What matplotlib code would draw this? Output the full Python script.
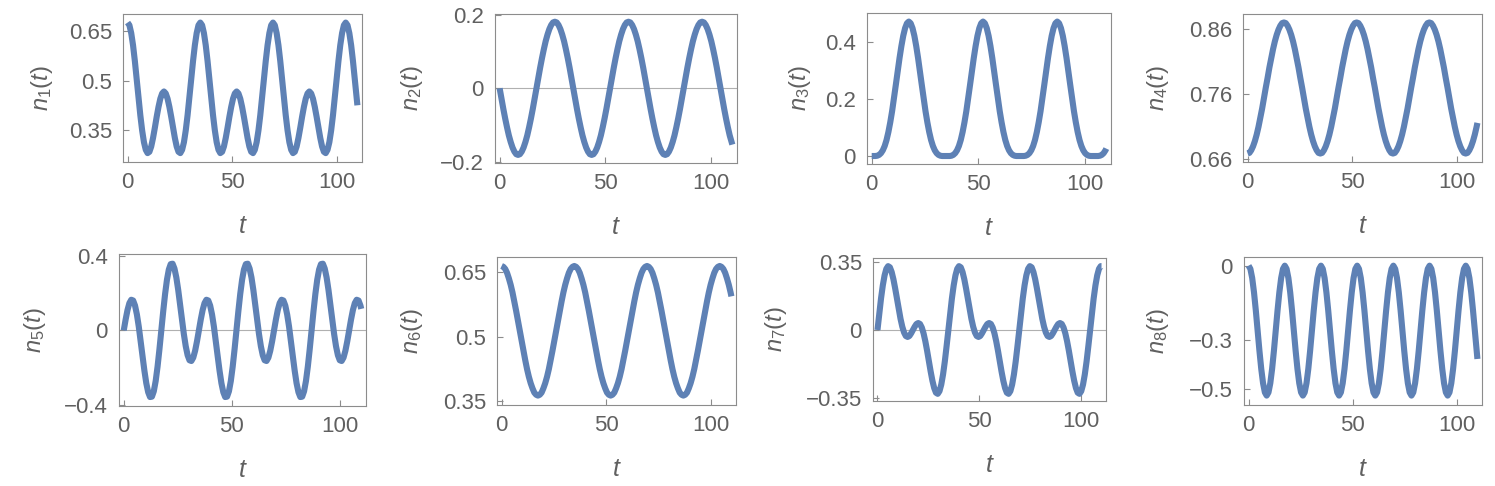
import numpy as np
import matplotlib
matplotlib.use("Agg")
import matplotlib.pyplot as plt

plt.rcParams['font.family'] = ['Liberation Sans', 'DejaVu Sans']
plt.rcParams['mathtext.fontset'] = 'custom'
plt.rcParams['mathtext.it'] = 'Liberation Sans:italic'
plt.rcParams['mathtext.rm'] = 'Liberation Sans'

# sample times: 40 samples per ~34.8 period, last point at t = 110
t = np.append(np.arange(127) * 0.87, 110.0)

n1 = [0.676, 0.668, 0.644, 0.607, 0.559, 0.504, 0.448, 0.395, 0.349, 0.313,
      0.290, 0.280, 0.284, 0.300, 0.326, 0.357, 0.390, 0.420, 0.445, 0.461,
      0.467, 0.461, 0.445, 0.420, 0.390, 0.357, 0.326, 0.300, 0.284, 0.280,
      0.290, 0.313, 0.349, 0.395, 0.448, 0.504, 0.559, 0.607, 0.644, 0.668,
      0.676, 0.668, 0.644, 0.607, 0.559, 0.504, 0.448, 0.395, 0.349, 0.313,
      0.290, 0.280, 0.284, 0.300, 0.326, 0.357, 0.390, 0.420, 0.445, 0.461,
      0.467, 0.461, 0.445, 0.420, 0.390, 0.357, 0.326, 0.300, 0.284, 0.280,
      0.290, 0.313, 0.349, 0.395, 0.448, 0.504, 0.559, 0.607, 0.644, 0.668,
      0.676, 0.668, 0.644, 0.607, 0.559, 0.504, 0.448, 0.395, 0.349, 0.313,
      0.290, 0.280, 0.284, 0.300, 0.326, 0.357, 0.390, 0.420, 0.445, 0.461,
      0.467, 0.461, 0.445, 0.420, 0.390, 0.357, 0.326, 0.300, 0.284, 0.280,
      0.290, 0.313, 0.349, 0.395, 0.448, 0.504, 0.559, 0.607, 0.644, 0.668,
      0.676, 0.668, 0.644, 0.607, 0.559, 0.504, 0.448, 0.425]
n2 = [0.000, -0.028, -0.056, -0.082, -0.106, -0.128, -0.146, -0.161, -0.172, -0.179,
      -0.181, -0.179, -0.172, -0.161, -0.146, -0.128, -0.106, -0.082, -0.056, -0.028,
      0.000, 0.028, 0.056, 0.082, 0.106, 0.128, 0.146, 0.161, 0.172, 0.179,
      0.181, 0.179, 0.172, 0.161, 0.146, 0.128, 0.106, 0.082, 0.056, 0.028,
      0.000, -0.028, -0.056, -0.082, -0.106, -0.128, -0.146, -0.161, -0.172, -0.179,
      -0.181, -0.179, -0.172, -0.161, -0.146, -0.128, -0.106, -0.082, -0.056, -0.028,
      0.000, 0.028, 0.056, 0.082, 0.106, 0.128, 0.146, 0.161, 0.172, 0.179,
      0.181, 0.179, 0.172, 0.161, 0.146, 0.128, 0.106, 0.082, 0.056, 0.028,
      0.000, -0.028, -0.056, -0.082, -0.106, -0.128, -0.146, -0.161, -0.172, -0.179,
      -0.181, -0.179, -0.172, -0.161, -0.146, -0.128, -0.106, -0.082, -0.056, -0.028,
      0.000, 0.028, 0.056, 0.082, 0.106, 0.128, 0.146, 0.161, 0.172, 0.179,
      0.181, 0.179, 0.172, 0.161, 0.146, 0.128, 0.106, 0.082, 0.056, 0.028,
      0.000, -0.028, -0.056, -0.082, -0.106, -0.128, -0.146, -0.153]
n3 = [0.000, 0.000, 0.000, 0.001, 0.004, 0.010, 0.020, 0.035, 0.056, 0.084,
      0.118, 0.157, 0.202, 0.249, 0.297, 0.343, 0.385, 0.421, 0.448, 0.465,
      0.471, 0.465, 0.448, 0.421, 0.385, 0.343, 0.297, 0.249, 0.202, 0.157,
      0.118, 0.084, 0.056, 0.035, 0.020, 0.010, 0.004, 0.001, 0.000, 0.000,
      0.000, 0.000, 0.000, 0.001, 0.004, 0.010, 0.020, 0.035, 0.056, 0.084,
      0.118, 0.157, 0.202, 0.249, 0.297, 0.343, 0.385, 0.421, 0.448, 0.465,
      0.471, 0.465, 0.448, 0.421, 0.385, 0.343, 0.297, 0.249, 0.202, 0.157,
      0.118, 0.084, 0.056, 0.035, 0.020, 0.010, 0.004, 0.001, 0.000, 0.000,
      0.000, 0.000, 0.000, 0.001, 0.004, 0.010, 0.020, 0.035, 0.056, 0.084,
      0.118, 0.157, 0.202, 0.249, 0.297, 0.343, 0.385, 0.421, 0.448, 0.465,
      0.471, 0.465, 0.448, 0.421, 0.385, 0.343, 0.297, 0.249, 0.202, 0.157,
      0.118, 0.084, 0.056, 0.035, 0.020, 0.010, 0.004, 0.001, 0.000, 0.000,
      0.000, 0.000, 0.000, 0.001, 0.004, 0.010, 0.020, 0.026]
n4 = [0.669, 0.670, 0.674, 0.680, 0.688, 0.698, 0.710, 0.724, 0.738, 0.754,
      0.770, 0.785, 0.801, 0.815, 0.829, 0.841, 0.851, 0.859, 0.865, 0.869,
      0.870, 0.869, 0.865, 0.859, 0.851, 0.841, 0.829, 0.815, 0.801, 0.785,
      0.770, 0.754, 0.738, 0.724, 0.710, 0.698, 0.688, 0.680, 0.674, 0.670,
      0.669, 0.670, 0.674, 0.680, 0.688, 0.698, 0.710, 0.724, 0.738, 0.754,
      0.770, 0.785, 0.801, 0.815, 0.829, 0.841, 0.851, 0.859, 0.865, 0.869,
      0.870, 0.869, 0.865, 0.859, 0.851, 0.841, 0.829, 0.815, 0.801, 0.785,
      0.770, 0.754, 0.738, 0.724, 0.710, 0.698, 0.688, 0.680, 0.674, 0.670,
      0.669, 0.670, 0.674, 0.680, 0.688, 0.698, 0.710, 0.724, 0.738, 0.754,
      0.770, 0.785, 0.801, 0.815, 0.829, 0.841, 0.851, 0.859, 0.865, 0.869,
      0.870, 0.869, 0.865, 0.859, 0.851, 0.841, 0.829, 0.815, 0.801, 0.785,
      0.770, 0.754, 0.738, 0.724, 0.710, 0.698, 0.688, 0.680, 0.674, 0.670,
      0.669, 0.670, 0.674, 0.680, 0.688, 0.698, 0.710, 0.716]
n5 = [0.000, 0.058, 0.109, 0.146, 0.164, 0.160, 0.133, 0.085, 0.020, -0.057,
      -0.138, -0.216, -0.283, -0.331, -0.357, -0.355, -0.326, -0.271, -0.194, -0.101,
      0.000, 0.101, 0.194, 0.271, 0.326, 0.355, 0.357, 0.331, 0.283, 0.216,
      0.138, 0.057, -0.020, -0.085, -0.133, -0.160, -0.164, -0.146, -0.109, -0.058,
      0.000, 0.058, 0.109, 0.146, 0.164, 0.160, 0.133, 0.085, 0.020, -0.057,
      -0.138, -0.216, -0.283, -0.331, -0.357, -0.355, -0.326, -0.271, -0.194, -0.101,
      0.000, 0.101, 0.194, 0.271, 0.326, 0.355, 0.357, 0.331, 0.283, 0.216,
      0.138, 0.057, -0.020, -0.085, -0.133, -0.160, -0.164, -0.146, -0.109, -0.058,
      0.000, 0.058, 0.109, 0.146, 0.164, 0.160, 0.133, 0.085, 0.020, -0.057,
      -0.138, -0.216, -0.283, -0.331, -0.357, -0.355, -0.326, -0.271, -0.194, -0.101,
      0.000, 0.101, 0.194, 0.271, 0.326, 0.355, 0.357, 0.331, 0.283, 0.216,
      0.138, 0.057, -0.020, -0.085, -0.133, -0.160, -0.164, -0.146, -0.109, -0.058,
      0.000, 0.058, 0.109, 0.146, 0.164, 0.160, 0.133, 0.115]
n6 = [0.665, 0.663, 0.658, 0.649, 0.636, 0.621, 0.603, 0.582, 0.560, 0.537,
      0.514, 0.490, 0.467, 0.445, 0.424, 0.406, 0.391, 0.379, 0.369, 0.364,
      0.362, 0.364, 0.369, 0.379, 0.391, 0.406, 0.424, 0.445, 0.467, 0.490,
      0.514, 0.537, 0.560, 0.582, 0.603, 0.621, 0.636, 0.649, 0.658, 0.663,
      0.665, 0.663, 0.658, 0.649, 0.636, 0.621, 0.603, 0.582, 0.560, 0.537,
      0.514, 0.490, 0.467, 0.445, 0.424, 0.406, 0.391, 0.379, 0.369, 0.364,
      0.362, 0.364, 0.369, 0.379, 0.391, 0.406, 0.424, 0.445, 0.467, 0.490,
      0.514, 0.537, 0.560, 0.582, 0.603, 0.621, 0.636, 0.649, 0.658, 0.663,
      0.665, 0.663, 0.658, 0.649, 0.636, 0.621, 0.603, 0.582, 0.560, 0.537,
      0.514, 0.490, 0.467, 0.445, 0.424, 0.406, 0.391, 0.379, 0.369, 0.364,
      0.362, 0.364, 0.369, 0.379, 0.391, 0.406, 0.424, 0.445, 0.467, 0.490,
      0.514, 0.537, 0.560, 0.582, 0.603, 0.621, 0.636, 0.649, 0.658, 0.663,
      0.665, 0.663, 0.658, 0.649, 0.636, 0.621, 0.603, 0.594]
n7 = [0.000, 0.084, 0.163, 0.230, 0.282, 0.316, 0.330, 0.324, 0.300, 0.262,
      0.214, 0.161, 0.107, 0.058, 0.017, -0.013, -0.031, -0.036, -0.031, -0.017,
      0.000, 0.017, 0.031, 0.036, 0.031, 0.013, -0.017, -0.058, -0.107, -0.161,
      -0.214, -0.262, -0.300, -0.324, -0.330, -0.316, -0.282, -0.230, -0.163, -0.084,
      0.000, 0.084, 0.163, 0.230, 0.282, 0.316, 0.330, 0.324, 0.300, 0.262,
      0.214, 0.161, 0.107, 0.058, 0.017, -0.013, -0.031, -0.036, -0.031, -0.017,
      0.000, 0.017, 0.031, 0.036, 0.031, 0.013, -0.017, -0.058, -0.107, -0.161,
      -0.214, -0.262, -0.300, -0.324, -0.330, -0.316, -0.282, -0.230, -0.163, -0.084,
      0.000, 0.084, 0.163, 0.230, 0.282, 0.316, 0.330, 0.324, 0.300, 0.262,
      0.214, 0.161, 0.107, 0.058, 0.017, -0.013, -0.031, -0.036, -0.031, -0.017,
      0.000, 0.017, 0.031, 0.036, 0.031, 0.013, -0.017, -0.058, -0.107, -0.161,
      -0.214, -0.262, -0.300, -0.324, -0.330, -0.316, -0.282, -0.230, -0.163, -0.084,
      0.000, 0.084, 0.163, 0.230, 0.282, 0.316, 0.330, 0.330]
n8 = [0.000, -0.013, -0.050, -0.108, -0.181, -0.263, -0.344, -0.417, -0.475, -0.512,
      -0.525, -0.512, -0.475, -0.417, -0.344, -0.263, -0.181, -0.108, -0.050, -0.013,
      0.000, -0.013, -0.050, -0.108, -0.181, -0.263, -0.344, -0.417, -0.475, -0.512,
      -0.525, -0.512, -0.475, -0.417, -0.344, -0.263, -0.181, -0.108, -0.050, -0.013,
      0.000, -0.013, -0.050, -0.108, -0.181, -0.263, -0.344, -0.417, -0.475, -0.512,
      -0.525, -0.512, -0.475, -0.417, -0.344, -0.263, -0.181, -0.108, -0.050, -0.013,
      0.000, -0.013, -0.050, -0.108, -0.181, -0.263, -0.344, -0.417, -0.475, -0.512,
      -0.525, -0.512, -0.475, -0.417, -0.344, -0.263, -0.181, -0.108, -0.050, -0.013,
      0.000, -0.013, -0.050, -0.108, -0.181, -0.263, -0.344, -0.417, -0.475, -0.512,
      -0.525, -0.512, -0.475, -0.417, -0.344, -0.263, -0.181, -0.108, -0.050, -0.013,
      0.000, -0.013, -0.050, -0.108, -0.181, -0.263, -0.344, -0.417, -0.475, -0.512,
      -0.525, -0.512, -0.475, -0.417, -0.344, -0.263, -0.181, -0.108, -0.050, -0.013,
      0.000, -0.013, -0.050, -0.108, -0.181, -0.263, -0.344, -0.377]

series = [n1, n2, n3, n4, n5, n6, n7, n8]
ylabels = [r'$n_{\mathit{%d}}(t)$' % (i + 1) for i in range(8)]
yticks = [[0.35, 0.5, 0.65], [-0.2, 0, 0.2], [0, 0.2, 0.4], [0.66, 0.76, 0.86],
          [-0.4, 0, 0.4], [0.35, 0.5, 0.65], [-0.35, 0, 0.35], [-0.5, -0.3, 0]]
ylims = [(0.253, 0.702), (-0.203, 0.202), (-0.028, 0.501), (0.656, 0.883),
         (-0.405, 0.409), (0.340, 0.686), (-0.367, 0.372), (-0.563, 0.035)]
zero_line = [False, True, False, False, True, False, True, False]

# frame boxes in pixels: left, right, top, bottom ; and right edge of y label
W, H = 1495, 486
boxes = [(123, 362, 14, 162), (495, 737, 14, 163), (867, 1111, 13, 164), (1243, 1482, 14, 162),
         (119, 366, 254, 406), (497, 736, 257, 405), (873, 1106, 258, 401), (1244, 1482, 257, 405)]
ylab_right = [55, 425, 813, 1171, 48, 425, 789, 1171]

LINE = '#5E81B5'
FRAME = '#8c8c8c'
TXT = '#606060'

fig = plt.figure(figsize=(W / 100, H / 100), dpi=100)

for i in range(8):
    x0, x1, yt, yb = boxes[i]
    ax = fig.add_axes([x0 / W, 1 - yb / H, (x1 - x0) / W, (yb - yt) / H])
    if zero_line[i]:
        ax.axhline(0, color='#b0b0b0', lw=0.8, zorder=1)
    ax.plot(t, series[i], color=LINE, lw=4.4, solid_capstyle='butt',
            solid_joinstyle='round', zorder=2)
    ax.set_xlim(-2.2, 112.2)
    ax.set_ylim(*ylims[i])
    ax.set_xticks([0, 50, 100])
    ax.set_yticks(yticks[i])
    ax.set_yticklabels([('%g' % v).replace('-', '\u2212') for v in yticks[i]])
    for s in ax.spines.values():
        s.set_color(FRAME)
        s.set_linewidth(0.8)
    ax.tick_params(direction='in', length=4, width=0.8, color=FRAME,
                   labelcolor=TXT, labelsize=16)
    ax.tick_params(axis='y', pad=8)
    ax.tick_params(axis='x', pad=7)
    ax.set_xlabel(r'$t$', fontsize=18, color=TXT)
    ax.set_ylabel(ylabels[i], fontsize=17, color=TXT)
    ax.xaxis.set_label_coords(0.5, -52 / (yb - yt))
    ax.yaxis.set_label_coords((ylab_right[i] - x0) / (x1 - x0), 0.5)

fig.savefig('out.png', dpi=100)
